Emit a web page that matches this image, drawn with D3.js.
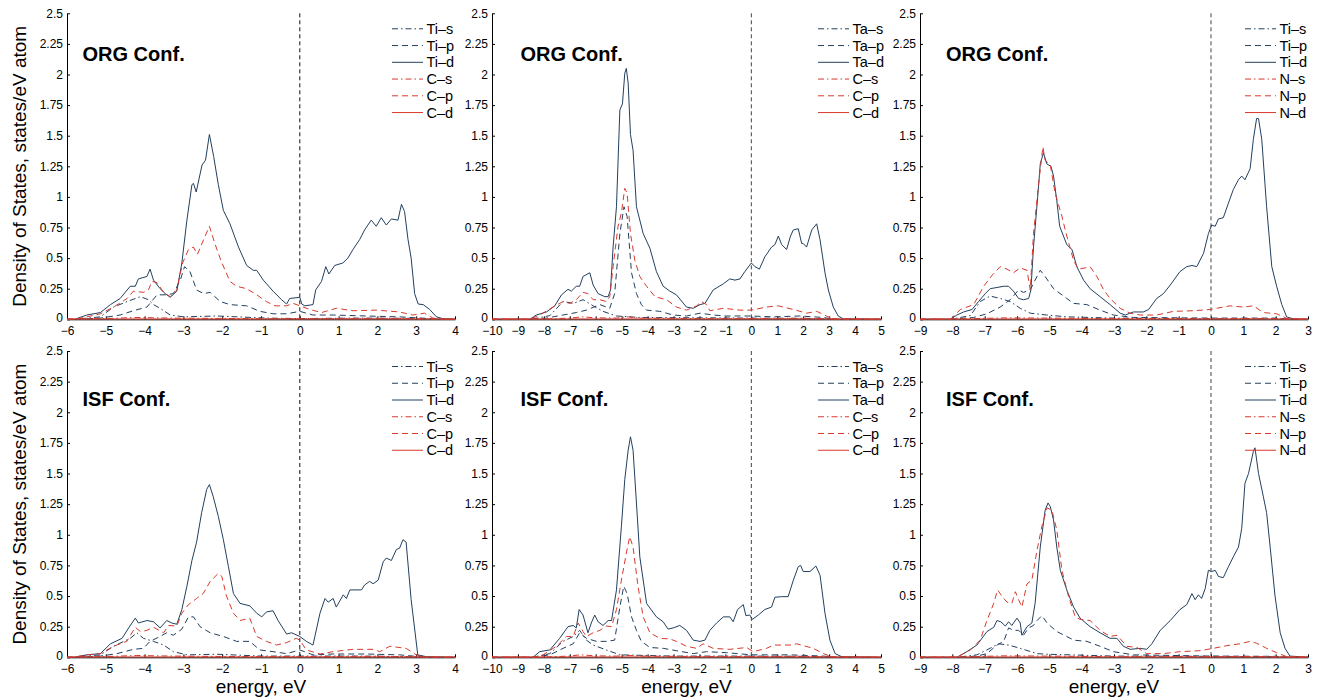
<!DOCTYPE html>
<html>
<head>
<meta charset="utf-8">
<script src="https://d3js.org/d3.v7.min.js"></script>
<style>
  body { margin: 0; background: #fff; }
  svg { font-family: "Liberation Sans", Arial, sans-serif; }
</style>
</head>
<body>
<div id="chart"></div>
<script>
// DOS curves as [energy (eV), states/eV atom]

// ---- ORG Conf., TiC ----
var orgTiC_Ti_s = [[-6,0],[-5.8,0],[-5.14,0.02],[-4.8,0.1],[-4.45,0.145],[-4.11,0.185],[-3.9,0.16],[-3.77,0.12],[-3.6,0.09],[-3.34,0.035],[-3.0,0.02],[-2.14,0.027],[-0.86,0.01],[0,0.006],[1.5,0.01],[3.0,0.008],[3.5,0.002],[4,0]];
var orgTiC_Ti_p = [[-6,0],[-5.8,0],[-5.14,0.01],[-4.63,0.035],[-4.29,0.07],[-3.94,0.1],[-3.68,0.2],[-3.43,0.2],[-3.26,0.21],[-3.08,0.32],[-2.97,0.43],[-2.83,0.39],[-2.66,0.24],[-2.48,0.21],[-2.31,0.22],[-2.05,0.145],[-1.8,0.12],[-1.37,0.11],[-1.03,0.065],[-0.69,0.045],[-0.34,0.045],[0,0.065],[0.34,0.035],[0.86,0.035],[1.71,0.027],[2.57,0.02],[3.26,0.008],[3.6,0],[4,0]];
var orgTiC_Ti_d = [[-6,0],[-5.8,0],[-5.49,0.035],[-5.14,0.055],[-4.88,0.12],[-4.63,0.17],[-4.37,0.27],[-4.24,0.27],[-4.16,0.33],[-3.94,0.35],[-3.86,0.41],[-3.77,0.32],[-3.6,0.25],[-3.47,0.21],[-3.34,0.18],[-3.17,0.23],[-3.04,0.46],[-2.91,0.81],[-2.78,1.10],[-2.74,1.11],[-2.67,1.04],[-2.52,1.26],[-2.43,1.30],[-2.33,1.51],[-2.22,1.33],[-2.1,1.10],[-1.97,0.89],[-1.8,0.78],[-1.58,0.59],[-1.37,0.44],[-1.2,0.40],[-1.11,0.40],[-0.94,0.32],[-0.69,0.23],[-0.47,0.16],[-0.34,0.125],[-0.26,0.17],[0,0.18],[0.05,0.125],[0.13,0.11],[0.34,0.12],[0.41,0.24],[0.56,0.31],[0.67,0.43],[0.75,0.37],[0.9,0.44],[1.11,0.46],[1.24,0.5],[1.37,0.57],[1.54,0.65],[1.67,0.73],[1.84,0.81],[1.97,0.76],[2.1,0.83],[2.23,0.77],[2.36,0.82],[2.53,0.81],[2.62,0.94],[2.7,0.88],[2.79,0.65],[2.87,0.5],[2.96,0.21],[3.05,0.125],[3.18,0.12],[3.35,0.08],[3.52,0.02],[3.69,0.005],[4,0]];
var orgTiC_C_s = [[-6,0],[-5.5,0.003],[-4.8,0.008],[-4.29,0.015],[-3.8,0.013],[-3.3,0.01],[-2.5,0.008],[-1,0.005],[0.5,0.006],[2,0.008],[3.3,0.003],[4,0]];
var orgTiC_C_p = [[-6,0],[-5.8,0],[-5.49,0.02],[-5.14,0.045],[-4.8,0.1],[-4.45,0.17],[-4.29,0.23],[-4.03,0.22],[-3.9,0.24],[-3.81,0.31],[-3.68,0.3],[-3.51,0.22],[-3.34,0.185],[-3.17,0.24],[-3.02,0.46],[-2.87,0.57],[-2.74,0.59],[-2.64,0.53],[-2.48,0.65],[-2.33,0.76],[-2.19,0.62],[-2.02,0.47],[-1.8,0.31],[-1.63,0.27],[-1.37,0.25],[-1.11,0.2],[-0.86,0.145],[-0.64,0.11],[-0.34,0.11],[-0.17,0.13],[0,0.11],[0.26,0.08],[0.56,0.055],[0.94,0.09],[1.37,0.07],[1.97,0.075],[2.57,0.06],[2.91,0.035],[3.21,0.05],[3.43,0.01],[3.7,0],[4,0]];
var orgTiC_C_d = [[-6,0.003],[4,0.003]];

// ---- ORG Conf., TaC ----
var orgTaC_Ta_s = [[-10,0],[-8.5,0],[-7.77,0.03],[-7.26,0.145],[-6.87,0.13],[-6.49,0.16],[-6.1,0.11],[-5.72,0.065],[-5.2,0.027],[-4.3,0.015],[0,0.01],[2,0.008],[3.2,0.003],[5,0]];
var orgTaC_Ta_p = [[-10,0],[-8.5,0],[-7.9,0.01],[-7.26,0.035],[-6.75,0.055],[-6.36,0.075],[-5.84,0.12],[-5.46,0.09],[-5.27,0.21],[-5.07,0.7],[-4.91,0.92],[-4.79,0.84],[-4.62,0.38],[-4.43,0.21],[-4.24,0.12],[-4.04,0.075],[-3.53,0.065],[-3.01,0.035],[-2.5,0.027],[-1.98,0.05],[-1.47,0.035],[-0.96,0.027],[0,0.027],[0.85,0.02],[1.87,0.027],[2.78,0.015],[3.2,0],[5,0]];
var orgTaC_Ta_d = [[-10,0],[-8.55,0],[-8.29,0.035],[-7.9,0.06],[-7.58,0.11],[-7.32,0.2],[-7.07,0.245],[-6.94,0.23],[-6.75,0.27],[-6.62,0.27],[-6.49,0.35],[-6.23,0.38],[-6.1,0.28],[-5.91,0.21],[-5.65,0.185],[-5.52,0.185],[-5.43,0.24],[-5.33,0.59],[-5.2,0.92],[-5.07,1.71],[-4.97,1.76],[-4.88,2.01],[-4.82,2.05],[-4.75,1.93],[-4.66,1.51],[-4.56,1.38],[-4.43,0.92],[-4.17,0.7],[-3.91,0.58],[-3.66,0.39],[-3.4,0.27],[-3.14,0.23],[-2.89,0.2],[-2.5,0.1],[-2.24,0.09],[-1.98,0.12],[-1.79,0.13],[-1.47,0.24],[-1.08,0.29],[-0.83,0.33],[-0.63,0.32],[-0.44,0.33],[-0.25,0.39],[0,0.46],[0.14,0.43],[0.31,0.41],[0.52,0.51],[0.78,0.59],[0.91,0.61],[1.04,0.68],[1.17,0.61],[1.36,0.57],[1.51,0.68],[1.62,0.73],[1.81,0.74],[1.94,0.62],[2.0,0.62],[2.13,0.59],[2.33,0.73],[2.52,0.78],[2.65,0.65],[2.84,0.38],[2.97,0.24],[3.16,0.1],[3.35,0.027],[3.55,0.003],[5,0]];
var orgTaC_C_s = [[-10,0],[-8.3,0],[-7,0.01],[-6.5,0.02],[-6,0.012],[-5.2,0.01],[-4.8,0.02],[-4.3,0.01],[-2,0.006],[0,0.006],[2,0.008],[3.2,0.002],[5,0]];
var orgTaC_C_p = [[-10,0],[-8.55,0],[-8.16,0.035],[-7.65,0.1],[-7.26,0.145],[-7.0,0.13],[-6.75,0.16],[-6.49,0.22],[-6.3,0.21],[-6.1,0.16],[-5.84,0.16],[-5.59,0.145],[-5.46,0.185],[-5.33,0.43],[-5.14,0.76],[-5.01,0.87],[-4.88,1.07],[-4.79,1.03],[-4.66,0.7],[-4.49,0.48],[-4.3,0.35],[-4.04,0.27],[-3.72,0.185],[-3.27,0.16],[-2.89,0.1],[-2.5,0.075],[-2.11,0.11],[-1.92,0.145],[-1.73,0.12],[-1.6,0.07],[-1.08,0.09],[-0.44,0.075],[0,0.075],[0.59,0.1],[1.04,0.11],[1.62,0.08],[2.13,0.05],[2.52,0.065],[2.9,0.027],[3.16,0],[5,0]];
var orgTaC_C_d = [[-10,0.003],[5,0.003]];

// ---- ORG Conf., TiN ----
var orgTiN_Ti_s = [[-9,0],[-8.06,0],[-7.44,0.03],[-7.14,0.145],[-6.83,0.19],[-6.52,0.17],[-6.21,0.145],[-5.9,0.09],[-5.59,0.05],[-5.08,0.035],[-4.46,0.02],[-3.0,0.01],[0,0.005],[2,0.005],[2.5,0],[3,0]];
var orgTiN_Ti_p = [[-9,0],[-8.06,0],[-7.34,0.015],[-6.93,0.045],[-6.52,0.1],[-6.21,0.16],[-5.95,0.24],[-5.8,0.22],[-5.59,0.24],[-5.44,0.32],[-5.28,0.4],[-5.13,0.35],[-4.87,0.25],[-4.46,0.17],[-4.25,0.13],[-3.84,0.12],[-3.43,0.075],[-3.02,0.035],[-2.4,0.015],[0,0.01],[2,0.01],[2.5,0],[3,0]];
var orgTiN_Ti_d = [[-9,0],[-8.06,0],[-7.86,0.035],[-7.65,0.06],[-7.39,0.08],[-7.19,0.145],[-6.98,0.21],[-6.83,0.25],[-6.62,0.26],[-6.41,0.27],[-6.26,0.27],[-6.11,0.23],[-5.95,0.17],[-5.8,0.16],[-5.64,0.17],[-5.57,0.24],[-5.49,0.59],[-5.36,1.0],[-5.28,1.27],[-5.18,1.36],[-5.08,1.27],[-4.95,1.25],[-4.87,1.17],[-4.77,0.97],[-4.68,0.76],[-4.46,0.61],[-4.3,0.57],[-4.15,0.43],[-3.94,0.32],[-3.74,0.25],[-3.43,0.185],[-3.12,0.12],[-2.81,0.05],[-2.65,0.035],[-2.4,0.06],[-2.09,0.06],[-1.93,0.08],[-1.68,0.17],[-1.47,0.21],[-1.26,0.28],[-0.96,0.39],[-0.75,0.43],[-0.59,0.44],[-0.44,0.43],[-0.23,0.54],[-0.08,0.7],[0.02,0.77],[0.13,0.76],[0.23,0.82],[0.38,0.83],[0.54,0.95],[0.69,1.06],[0.85,1.14],[0.95,1.17],[1.05,1.14],[1.21,1.23],[1.31,1.47],[1.41,1.64],[1.47,1.64],[1.57,1.47],[1.72,0.92],[1.88,0.43],[2.03,0.27],[2.19,0.12],[2.34,0.02],[2.55,0.003],[3,0]];
var orgTiN_N_s = [[-9,0],[-8,0],[-7,0.008],[-6.3,0.012],[-5,0.01],[-3,0.005],[0,0.005],[1.5,0.006],[2.5,0],[3,0]];
var orgTiN_N_p = [[-9,0],[-8.06,0],[-7.75,0.08],[-7.34,0.12],[-7.03,0.27],[-6.77,0.36],[-6.52,0.43],[-6.31,0.41],[-6.11,0.38],[-5.9,0.42],[-5.69,0.4],[-5.59,0.24],[-5.49,0.7],[-5.33,1.11],[-5.2,1.41],[-5.13,1.3],[-4.97,1.26],[-4.82,1.03],[-4.61,0.84],[-4.46,0.68],[-4.25,0.48],[-4.1,0.41],[-3.89,0.42],[-3.74,0.43],[-3.53,0.35],[-3.32,0.24],[-3.12,0.17],[-2.81,0.09],[-2.5,0.05],[-2.19,0.035],[-1.68,0.035],[-1.16,0.065],[-0.54,0.07],[-0.03,0.08],[0.59,0.11],[1.0,0.1],[1.31,0.11],[1.62,0.055],[2.03,0.045],[2.34,0.008],[3,0]];
var orgTiN_N_d = [[-9,0.003],[3,0.003]];

// ---- ISF Conf., TiC ----
var isfTiC_Ti_s = [[-6,0],[-5.83,0],[-5.14,0.02],[-4.8,0.09],[-4.37,0.155],[-4.2,0.2],[-4.03,0.155],[-3.77,0.13],[-3.51,0.1],[-3.26,0.046],[-2.91,0.02],[-2.14,0.025],[-1,0.01],[0,0.01],[1.5,0.01],[3,0.005],[3.3,0],[4,0]];
var isfTiC_Ti_p = [[-6,0],[-5.83,0],[-5.14,0.01],[-4.71,0.03],[-4.29,0.065],[-4.03,0.073],[-3.86,0.13],[-3.6,0.17],[-3.43,0.2],[-3.26,0.18],[-3.04,0.23],[-2.87,0.33],[-2.74,0.33],[-2.57,0.25],[-2.31,0.2],[-1.97,0.17],[-1.63,0.13],[-1.29,0.13],[-1.03,0.06],[-0.69,0.046],[-0.34,0.03],[0,0.06],[0.34,0.02],[0.86,0.027],[1.71,0.027],[2.57,0.02],[3.1,0.005],[3.3,0],[4,0]];
var isfTiC_Ti_d = [[-6,0],[-5.83,0],[-5.49,0.02],[-5.14,0.03],[-4.88,0.11],[-4.58,0.155],[-4.41,0.24],[-4.24,0.32],[-4.16,0.28],[-3.94,0.3],[-3.77,0.29],[-3.6,0.24],[-3.43,0.3],[-3.3,0.28],[-3.17,0.27],[-3.04,0.39],[-2.91,0.58],[-2.78,0.79],[-2.66,0.94],[-2.53,1.18],[-2.4,1.37],[-2.33,1.41],[-2.23,1.31],[-2.1,1.15],[-1.97,0.96],[-1.84,0.74],[-1.71,0.52],[-1.54,0.44],[-1.29,0.42],[-1.11,0.36],[-0.98,0.33],[-0.86,0.37],[-0.69,0.38],[-0.56,0.3],[-0.34,0.19],[-0.21,0.2],[0,0.17],[0.17,0.13],[0.34,0.1],[0.52,0.36],[0.65,0.48],[0.73,0.45],[0.86,0.48],[0.94,0.41],[1.12,0.51],[1.2,0.48],[1.29,0.55],[1.59,0.55],[1.67,0.59],[1.8,0.62],[1.89,0.6],[2.02,0.63],[2.15,0.78],[2.23,0.81],[2.36,0.79],[2.49,0.88],[2.57,0.89],[2.66,0.96],[2.74,0.94],[2.87,0.47],[3.04,0.02],[3.26,0.005],[4,0]];
var isfTiC_C_s = [[-6,0],[-5.5,0.003],[-4.8,0.008],[-4.2,0.015],[-3.7,0.012],[-3.2,0.01],[-2.5,0.008],[-1,0.005],[0.5,0.006],[2,0.008],[3.1,0.003],[4,0]];
var isfTiC_C_p = [[-6,0],[-5.83,0],[-5.49,0.02],[-5.14,0.03],[-4.8,0.09],[-4.46,0.13],[-4.24,0.245],[-4.11,0.21],[-3.94,0.22],[-3.77,0.245],[-3.51,0.2],[-3.38,0.26],[-3.17,0.255],[-3.04,0.36],[-2.87,0.43],[-2.66,0.48],[-2.49,0.52],[-2.31,0.62],[-2.1,0.685],[-2.01,0.66],[-1.89,0.5],[-1.71,0.36],[-1.54,0.3],[-1.29,0.32],[-1.11,0.17],[-0.86,0.13],[-0.6,0.1],[-0.34,0.12],[-0.09,0.155],[0,0.14],[0.17,0.06],[0.52,0.027],[0.86,0.046],[1.37,0.065],[1.89,0.065],[2.06,0.046],[2.32,0.09],[2.74,0.073],[3.0,0.02],[3.2,0],[4,0]];
var isfTiC_C_d = [[-6,0.003],[4,0.003]];

// ---- ISF Conf., TaC ----
var isfTaC_Ta_s = [[-10,0],[-8.42,0],[-7.77,0.03],[-7.26,0.13],[-6.87,0.17],[-6.62,0.22],[-6.36,0.14],[-6.1,0.1],[-5.59,0.06],[-5.07,0.02],[-3,0.01],[0,0.01],[2,0.008],[3.2,0.003],[5,0]];
var isfTaC_Ta_p = [[-10,0],[-8.42,0],[-7.77,0.02],[-7.26,0.073],[-6.87,0.11],[-6.62,0.2],[-6.36,0.155],[-5.97,0.13],[-5.59,0.13],[-5.27,0.14],[-5.07,0.41],[-4.92,0.58],[-4.79,0.52],[-4.62,0.33],[-4.43,0.22],[-4.24,0.13],[-3.91,0.08],[-3.4,0.073],[-2.89,0.054],[-2.24,0.03],[-1.73,0.046],[-0.96,0.038],[0,0.02],[1.49,0.02],[2.78,0.01],[3.3,0],[5,0]];
var isfTaC_Ta_d = [[-10,0],[-8.42,0],[-8.16,0.046],[-7.77,0.06],[-7.39,0.155],[-7.07,0.25],[-6.87,0.26],[-6.75,0.24],[-6.64,0.39],[-6.49,0.345],[-6.3,0.2],[-6.17,0.28],[-6.04,0.345],[-5.91,0.29],[-5.72,0.26],[-5.52,0.3],[-5.39,0.3],[-5.2,0.55],[-5.01,1.07],[-4.88,1.45],[-4.75,1.69],[-4.66,1.8],[-4.56,1.69],[-4.43,1.26],[-4.3,0.82],[-4.04,0.44],[-3.66,0.33],[-3.4,0.29],[-3.21,0.23],[-3.01,0.24],[-2.76,0.26],[-2.5,0.22],[-2.24,0.14],[-1.98,0.13],[-1.79,0.14],[-1.6,0.22],[-1.34,0.28],[-1.08,0.33],[-0.83,0.33],[-0.7,0.29],[-0.53,0.39],[-0.31,0.43],[-0.21,0.34],[-0.06,0.345],[0.04,0.31],[0.27,0.345],[0.52,0.39],[0.78,0.41],[0.91,0.49],[1.17,0.495],[1.42,0.495],[1.62,0.63],[1.81,0.74],[1.9,0.75],[2.0,0.7],[2.26,0.7],[2.49,0.745],[2.65,0.67],[2.84,0.36],[3.03,0.14],[3.23,0.03],[3.49,0.005],[5,0]];
var isfTaC_C_s = [[-10,0],[-8.3,0],[-7,0.01],[-6.6,0.02],[-6,0.012],[-5.2,0.01],[-4.7,0.015],[-4.2,0.01],[-2,0.006],[0,0.006],[2,0.008],[3.2,0.002],[5,0]];
var isfTaC_C_p = [[-10,0],[-8.42,0],[-8.03,0.02],[-7.52,0.09],[-7.13,0.17],[-6.87,0.17],[-6.68,0.28],[-6.49,0.21],[-6.36,0.17],[-6.1,0.2],[-5.84,0.22],[-5.59,0.255],[-5.39,0.25],[-5.2,0.39],[-5.01,0.63],[-4.82,0.85],[-4.69,0.985],[-4.56,0.9],[-4.37,0.58],[-4.17,0.33],[-3.91,0.2],[-3.53,0.155],[-3.14,0.15],[-2.89,0.13],[-2.5,0.09],[-2.11,0.073],[-1.86,0.11],[-1.47,0.073],[-0.83,0.065],[-0.18,0.08],[0.07,0.046],[0.59,0.073],[0.85,0.1],[1.49,0.1],[1.75,0.11],[2.39,0.073],[2.78,0.03],[3.1,0.005],[3.3,0],[5,0]];
var isfTaC_C_d = [[-10,0.003],[5,0.003]];

// ---- ISF Conf., TiN ----
var isfTiN_Ti_s = [[-9,0],[-7.86,0],[-7.24,0.02],[-6.93,0.06],[-6.57,0.11],[-6.26,0.1],[-5.9,0.073],[-5.38,0.03],[-5.07,0.025],[-3,0.01],[0,0.008],[2,0.005],[2.5,0],[3,0]];
var isfTiN_Ti_p = [[-9,0],[-7.86,0],[-7.24,0.01],[-6.93,0.03],[-6.62,0.1],[-6.41,0.13],[-6.26,0.24],[-6.11,0.22],[-5.95,0.22],[-5.8,0.18],[-5.64,0.24],[-5.49,0.26],[-5.38,0.3],[-5.23,0.34],[-5.07,0.28],[-4.77,0.21],[-4.46,0.17],[-4.25,0.14],[-3.84,0.13],[-3.43,0.09],[-3.02,0.046],[-2.4,0.02],[0,0.01],[2,0.008],[2.5,0],[3,0]];
var isfTiN_Ti_d = [[-9,0],[-7.86,0],[-7.55,0.046],[-7.24,0.1],[-6.93,0.21],[-6.72,0.245],[-6.62,0.3],[-6.5,0.29],[-6.36,0.255],[-6.26,0.29],[-6.16,0.26],[-6.0,0.32],[-5.9,0.28],[-5.85,0.18],[-5.69,0.25],[-5.54,0.28],[-5.44,0.44],[-5.28,0.9],[-5.13,1.2],[-5.04,1.26],[-4.97,1.23],[-4.87,1.12],[-4.77,0.9],[-4.66,0.71],[-4.46,0.55],[-4.25,0.41],[-4.05,0.32],[-3.74,0.25],[-3.43,0.2],[-3.12,0.155],[-2.91,0.155],[-2.71,0.09],[-2.5,0.065],[-2.19,0.073],[-1.99,0.065],[-1.83,0.11],[-1.57,0.22],[-1.26,0.3],[-0.96,0.39],[-0.75,0.43],[-0.59,0.52],[-0.49,0.47],[-0.39,0.51],[-0.29,0.48],[-0.18,0.56],[-0.08,0.71],[0.02,0.7],[0.13,0.71],[0.23,0.66],[0.38,0.65],[0.54,0.74],[0.69,0.82],[0.85,0.9],[0.95,1.05],[1.05,1.42],[1.16,1.5],[1.31,1.68],[1.36,1.71],[1.47,1.5],[1.62,1.31],[1.72,1.18],[1.83,0.9],[1.98,0.5],[2.14,0.2],[2.29,0.073],[2.44,0.01],[3,0]];
var isfTiN_N_s = [[-9,0],[-7.9,0],[-7,0.008],[-6.4,0.012],[-5,0.01],[-3,0.005],[0,0.005],[1.5,0.006],[2.5,0],[3,0]];
var isfTiN_N_p = [[-9,0],[-7.86,0],[-7.44,0.06],[-7.14,0.14],[-6.93,0.3],[-6.72,0.44],[-6.6,0.55],[-6.47,0.5],[-6.31,0.45],[-6.16,0.44],[-6.05,0.535],[-5.95,0.47],[-5.85,0.41],[-5.69,0.6],[-5.54,0.63],[-5.38,0.875],[-5.23,1.07],[-5.07,1.22],[-4.92,1.2],[-4.77,1.04],[-4.61,0.71],[-4.41,0.5],[-4.2,0.33],[-4.05,0.31],[-3.74,0.3],[-3.43,0.22],[-3.12,0.17],[-2.91,0.18],[-2.6,0.09],[-2.29,0.08],[-1.99,0.03],[-1.47,0.03],[-0.96,0.046],[-0.34,0.054],[0.07,0.073],[0.59,0.1],[0.9,0.11],[1.21,0.13],[1.41,0.115],[1.72,0.073],[2.03,0.038],[2.34,0.005],[3,0]];
var isfTiN_N_d = [[-9,0.003],[3,0.003]];

var yTicks = [0, 0.25, 0.5, 0.75, 1, 1.25, 1.5, 1.75, 2, 2.25, 2.5];
var xTicksTiC = d3.range(-6, 5);
var xTicksTaC = d3.range(-10, 6);
var xTicksTiN = d3.range(-9, 4);

var navy = "#22405f";
var red = "#d8392c";
var dashDot = "6,3,1.5,3";
var dashed = "6,4";

var svgWidth = 1320;
var svgHeight = 699;

var colLeft = [67, 492, 920];
var colRight = [455, 881, 1308];
var rowTop = [13.3, 351];
var rowBottom = [319.3, 657.3];
var titleY = [2.17, 2.11];

function seriesFor(metal, nonmetal, s1, s2, s3, s4, s5, s6) {
    return [
        {name: metal + "\u2013s", data: s1, color: navy, dash: dashDot},
        {name: metal + "\u2013p", data: s2, color: navy, dash: dashed},
        {name: metal + "\u2013d", data: s3, color: navy, dash: null},
        {name: nonmetal + "\u2013s", data: s4, color: red, dash: dashDot},
        {name: nonmetal + "\u2013p", data: s5, color: red, dash: dashed},
        {name: nonmetal + "\u2013d", data: s6, color: red, dash: null}
    ];
}

var panels = [
    {row: 0, col: 0, title: "ORG Conf.", xTicks: xTicksTiC,
     series: seriesFor("Ti", "C", orgTiC_Ti_s, orgTiC_Ti_p, orgTiC_Ti_d, orgTiC_C_s, orgTiC_C_p, orgTiC_C_d)},
    {row: 0, col: 1, title: "ORG Conf.", xTicks: xTicksTaC,
     series: seriesFor("Ta", "C", orgTaC_Ta_s, orgTaC_Ta_p, orgTaC_Ta_d, orgTaC_C_s, orgTaC_C_p, orgTaC_C_d)},
    {row: 0, col: 2, title: "ORG Conf.", xTicks: xTicksTiN,
     series: seriesFor("Ti", "N", orgTiN_Ti_s, orgTiN_Ti_p, orgTiN_Ti_d, orgTiN_N_s, orgTiN_N_p, orgTiN_N_d)},
    {row: 1, col: 0, title: "ISF Conf.", xTicks: xTicksTiC,
     series: seriesFor("Ti", "C", isfTiC_Ti_s, isfTiC_Ti_p, isfTiC_Ti_d, isfTiC_C_s, isfTiC_C_p, isfTiC_C_d)},
    {row: 1, col: 1, title: "ISF Conf.", xTicks: xTicksTaC,
     series: seriesFor("Ta", "C", isfTaC_Ta_s, isfTaC_Ta_p, isfTaC_Ta_d, isfTaC_C_s, isfTaC_C_p, isfTaC_C_d)},
    {row: 1, col: 2, title: "ISF Conf.", xTicks: xTicksTiN,
     series: seriesFor("Ti", "N", isfTiN_Ti_s, isfTiN_Ti_p, isfTiN_Ti_d, isfTiN_N_s, isfTiN_N_p, isfTiN_N_d)}
];

var svg = d3.select("#chart")
    .append("svg")
    .attr("width", svgWidth)
    .attr("height", svgHeight);

panels.forEach(function (p) {
    var left = colLeft[p.col], right = colRight[p.col];
    var top = rowTop[p.row], bottom = rowBottom[p.row];

    var x = d3.scaleLinear()
        .domain(d3.extent(p.xTicks))
        .range([left, right]);

    var y = d3.scaleLinear()
        .domain([0, 2.5])
        .range([bottom, top]);

    var g = svg.append("g");

    // axes (ticks inside, like matlab)
    var xAxis = g.append("g")
        .attr("transform", `translate(0, ${bottom})`)
        .call(d3.axisBottom(x).tickValues(p.xTicks).tickSizeInner(-3).tickSizeOuter(0).tickPadding(7));

    var yAxis = g.append("g")
        .attr("transform", `translate(${left}, 0)`)
        .call(d3.axisLeft(y).tickValues(yTicks).tickFormat(d => String(d)).tickSizeInner(-3).tickSizeOuter(0).tickPadding(4));

    // y label "0" sits a touch higher so it clears the x labels
    yAxis.selectAll(".tick text").filter(d => d === 0).attr("dy", "0.2em");

    [xAxis, yAxis].forEach(function (a) {
        a.selectAll("text")
            .style("font-size", "12px")
            .style("font-family", "'Liberation Sans', Arial, sans-serif")
            .attr("fill", "#000");
        a.selectAll("line").attr("stroke", "#000");
        a.select(".domain").attr("stroke", "#000");
    });

    // Fermi level
    g.append("line")
        .attr("x1", x(0))
        .attr("x2", x(0))
        .attr("y1", y(2.5))
        .attr("y2", y(0))
        .attr("stroke", p.col === 0 ? "#111" : "#444")
        .attr("stroke-width", 1)
        .attr("stroke-dasharray", "4,3");

    var line = d3.line()
        .x(d => x(d[0]))
        .y(d => y(d[1]));

    g.selectAll("path.dos")
        .data(p.series)
        .enter()
        .append("path")
        .attr("class", "dos")
        .attr("d", d => line(d.data))
        .attr("fill", "none")
        .attr("stroke", d => d.color)
        .attr("stroke-width", 1)
        .attr("stroke-dasharray", d => d.dash);

    // title
    g.append("text")
        .attr("x", left + (p.col === 0 ? 15.5 : p.col === 1 ? 28.5 : 26))
        .attr("y", y(titleY[p.row]))
        .attr("dy", "0.36em")
        .style("font-size", "20px")
        .style("font-weight", "bold")
        .text(p.title);

    // legend
    var legend = g.selectAll("g.legend")
        .data(p.series)
        .enter()
        .append("g")
        .attr("class", "legend")
        .attr("transform", (d, i) => `translate(${right}, ${top + 15.5 + i * 16.75})`);

    legend.append("line")
        .attr("x1", -63)
        .attr("x2", -32)
        .attr("stroke", d => d.color)
        .attr("stroke-width", 1)
        .attr("stroke-dasharray", d => d.dash);

    legend.append("text")
        .attr("x", -28.5)
        .attr("dy", "0.35em")
        .style("font-size", "14.5px")
        .text(d => d.name);

    // axis labels
    if (p.col === 0) {
        g.append("text")
            .attr("transform", `translate(26, ${(top + bottom) / 2}) rotate(-90)`)
            .style("text-anchor", "middle")
            .style("font-size", "19px")
            .text("Density of States, states/eV atom");
    }
    if (p.row === 1) {
        g.append("text")
            .attr("x", (left + right) / 2)
            .attr("y", 693)
            .style("text-anchor", "middle")
            .style("font-size", "19px")
            .text("energy, eV");
    }
});
</script>
</body>
</html>
